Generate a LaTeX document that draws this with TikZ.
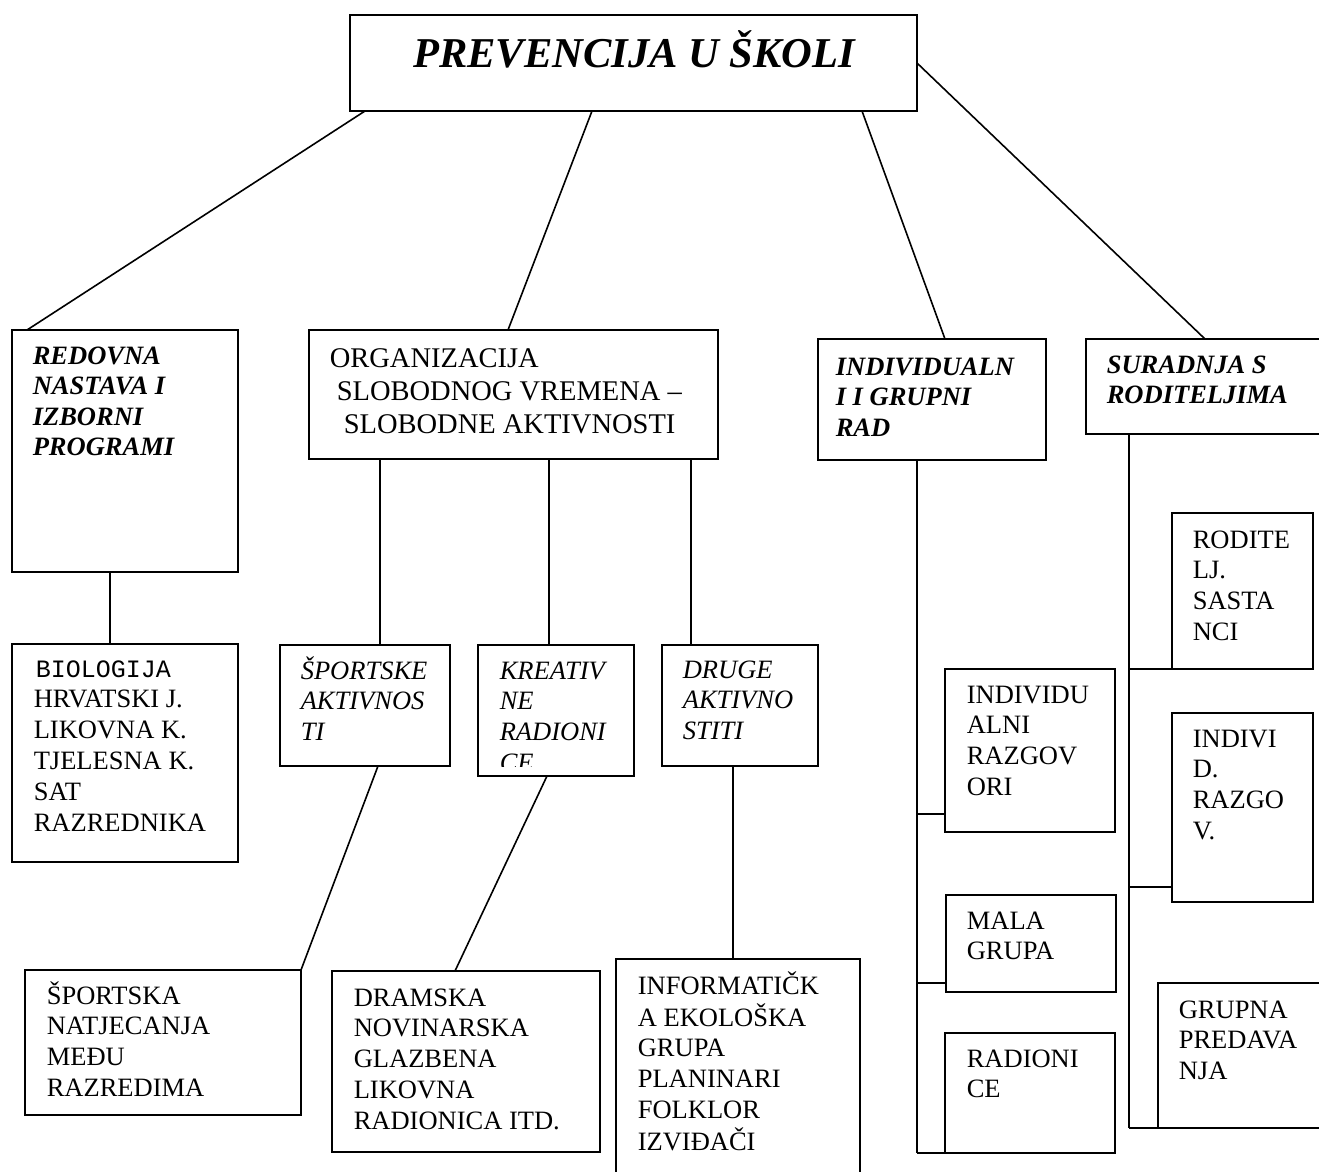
\documentclass[tikz,border=0pt]{standalone}
\usepackage{fontspec}
\setmainfont{Liberation Serif}
\newfontfamily\monofont{Liberation Mono}
\newcommand{\ml}[1]{\begin{tabular}[t]{@{}l@{}}#1\end{tabular}}
\begin{document}
\begin{tikzpicture}[x=1pt,y=-1pt, line width=1.6pt,
  box/.style={draw, line width=1.6pt, inner sep=0pt, outer sep=0pt, anchor=north west},
  txt/.style={anchor=base west, inner sep=0pt, font=\fontsize{26.5}{30.8}\selectfont},
  bi/.style={anchor=base west, inner sep=0pt, font=\fontsize{26.5}{30.6}\selectfont\bfseries\itshape},
  it/.style={anchor=base west, inner sep=0pt, font=\fontsize{26.5}{30.8}\selectfont\itshape}]
\useasboundingbox (0,0) rectangle (1319,1171);
\fill[white] (0,0) rectangle (1319,1171);
\clip (0,0) rectangle (1319,1171);

% title
\node[box, minimum width=567pt, minimum height=96pt] (title) at (350,15) {};
\node[anchor=base, inner sep=0pt, font=\fontsize{42.5}{50}\selectfont\bfseries\itshape] (tt) at (634,67) {PREVENCIJA U ŠKOLI};

% left column
\node[box, minimum width=226pt, minimum height=242pt] (red) at (12,330) {};
\node[bi] (tred) at (32,364) {\ml{REDOVNA\\NASTAVA I\\IZBORNI\\PROGRAMI}};
\node[box, minimum width=226pt, minimum height=218pt] (bio) at (12,644) {};
\node[txt] (tbio) at (33,677) {\ml{\hspace*{2pt}{\monofont\fontsize{25}{30.8}\selectfont BIOLOGIJA}\\HRVATSKI J.\\LIKOVNA K.\\TJELESNA K.\\SAT\\RAZREDNIKA}};

% organizacija
\node[box, minimum width=409pt, minimum height=129pt] (org) at (309,330) {};
\node[anchor=base west, inner sep=0pt, font=\fontsize{28.5}{33}\selectfont] (torg) at (329,367) {\ml{ORGANIZACIJA\\\hspace*{7pt}SLOBODNOG VREMENA –\\\hspace*{14pt}SLOBODNE AKTIVNOSTI}};

\node[box, minimum width=170pt, minimum height=121pt] (sp) at (280,645) {};
\node[it] (tsp) at (300,679) {\ml{ŠPORTSKE\\AKTIVNOS\\TI}};
\node[box, minimum width=156pt, minimum height=131pt] (kr) at (478,645) {};
\begin{scope}
\clip (478,645) rectangle (634,766);
\node[it] (tkr) at (499,679) {\ml{KREATIV\\NE\\RADIONI\\CE}};
\end{scope}
\node[box, minimum width=156pt, minimum height=121pt] (dr) at (662,645) {};
\node[it] (tdr) at (682,678) {\ml{DRUGE\\AKTIVNO\\STITI}};

\node[box, minimum width=276pt, minimum height=145pt] (spa) at (25,970) {};
\node[txt] (tspa) at (46,1004) {\ml{ŠPORTSKA\\NATJECANJA\\MEĐU\\RAZREDIMA}};
\node[box, minimum width=268pt, minimum height=181pt] (dram) at (332,971) {};
\node[txt] (tdram) at (353,1006) {\ml{DRAMSKA\\NOVINARSKA\\GLAZBENA\\LIKOVNA\\RADIONICA ITD.}};
\node[box, minimum width=244pt, minimum height=260pt] (inf) at (616,959) {};
\node[txt] (tinf) at (637,994) {\ml{INFORMATIČK\\A EKOLOŠKA\\GRUPA\\PLANINARI\\FOLKLOR\\IZVIĐAČI}};

% individualni
\node[box, minimum width=228pt, minimum height=121pt] (ind) at (818,339) {};
\node[bi] (tind) at (835,375) {\ml{INDIVIDUALN\\I I GRUPNI\\RAD}};
\node[box, minimum width=170pt, minimum height=163pt] (indiv) at (945,669) {};
\node[txt] (tindiv) at (966,703) {\ml{INDIVIDU\\ALNI\\RAZGOV\\ORI}};
\node[box, minimum width=170pt, minimum height=97pt] (mala) at (946,895) {};
\node[txt] (tmala) at (966,929) {\ml{MALA\\GRUPA}};
\node[box, minimum width=170pt, minimum height=120pt] (radi) at (945,1033) {};
\node[txt] (tradi) at (966,1067) {\ml{RADIONI\\CE}};

% suradnja
\node[box, minimum width=250pt, minimum height=95pt] (sur) at (1086,339) {};
\node[bi] (tsur) at (1106,373) {\ml{SURADNJA S\\RODITELJIMA}};
\node[box, minimum width=141pt, minimum height=156pt] (rod) at (1172,513) {};
\node[txt] (trod) at (1192,548) {\ml{RODITE\\LJ.\\SASTA\\NCI}};
\node[box, minimum width=141pt, minimum height=189pt] (indv) at (1172,713) {};
\node[txt] (tindv) at (1192,747) {\ml{INDIVI\\D.\\RAZGO\\V.}};
\node[box, minimum width=200pt, minimum height=145pt] (grp) at (1158,983) {};
\node[txt] (tgrp) at (1178,1018) {\ml{GRUPNA\\PREDAVA\\NJA}};

% connectors from title
\draw ([xshift=15pt]title.south west) -- ([xshift=15pt]red.north west);
\draw ([xshift=242pt]title.south west) -- ([xshift=199pt]org.north west);
\draw ([xshift=-55pt]title.south east) -- ([xshift=127pt]ind.north west);
\draw (title.east) -- ([xshift=119pt]sur.north west);

% left
\draw ([xshift=98pt]bio.north west) -- ([xshift=98pt]bio.north west |- red.south);
% organizacija children
\draw ([xshift=100pt]sp.north west) -- ([xshift=100pt]sp.north west |- org.south);
\draw ([xshift=71pt]kr.north west) -- ([xshift=71pt]kr.north west |- org.south);
\draw ([xshift=29pt]dr.north west) -- ([xshift=29pt]dr.north west |- org.south);
\draw ([xshift=98pt]sp.south west) -- (spa.north east);
\draw ([xshift=69pt]kr.south west) -- ([xshift=123pt]dram.north west);
\draw ([xshift=71pt]dr.south west) -- ([xshift=71pt]dr.south west |- inf.north);

% individualni trunk
\coordinate (lt) at ([xshift=99pt]ind.south west);
\draw (lt) -- (lt |- radi.south);
\draw (radi.south west) -- (lt |- radi.south west);
\coordinate (lb1) at (917,814);
\draw (lb1) -- (lb1 -| indiv.west);
\coordinate (lb2) at (917,983);
\draw (lb2) -- (lb2 -| mala.west);

% suradnja trunk
\coordinate (rt) at ([xshift=43pt]sur.south west);
\draw (rt) -- (rt |- grp.south);
\draw (grp.south west) -- (rt |- grp.south west);
\draw (rod.south west) -- (rt |- rod.south west);
\coordinate (rb2) at (1129,887);
\draw (rb2) -- (rb2 -| indv.west);
\end{tikzpicture}
\end{document}
